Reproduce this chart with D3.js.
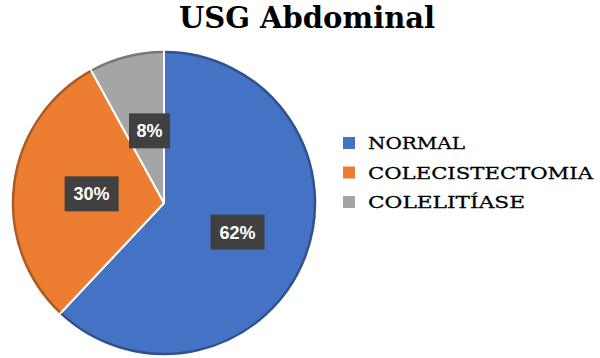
<!DOCTYPE html>
<html><head><meta charset="utf-8">
<script src="https://cdn.jsdelivr.net/npm/d3@7"></script>
<style>body{margin:0;background:#fff}svg{display:block}</style>
</head><body>
<svg id="c" width="600" height="358"></svg>
<script>
const title = "USG Abdominal";
const categories = ["NORMAL", "COLECISTECTOMIA", "COLELITÍASE"];
const values = [62, 30, 8];
const labels = ["62%", "30%", "8%"];
const colors = ["#4472C4", "#ED7D31", "#A5A5A5"];
const edgeColors = ["#2F528F", "#AE5A21", "#787878"];

const svg = d3.select("#c");
const cx = 164, cy = 203, r = 152;

svg.append("text").attr("x", 307).attr("y", 28).attr("text-anchor", "middle")
  .attr("font-family", "DejaVu Serif").attr("font-weight", "bold").attr("font-size", 29)
  .attr("fill", "#000").text(title);

const pie = d3.pie().sort(null).value(d => d)(values);
const arc = d3.arc().innerRadius(0).outerRadius(r);
const rim = d3.arc().innerRadius(r - 1).outerRadius(r - 1);
const g = svg.append("g").attr("transform", `translate(${cx},${cy})`);

g.selectAll("path.slice").data(pie).join("path").attr("class", "slice")
  .attr("d", arc).attr("fill", (d, i) => colors[i])
  .attr("stroke", "#fff").attr("stroke-width", 2).attr("stroke-linejoin", "round");
g.selectAll("path.rim").data(pie).join("path").attr("class", "rim")
  .attr("d", d => rim({startAngle: d.startAngle + 0.006, endAngle: d.endAngle - 0.006}))
  .attr("fill", "none").attr("stroke", (d, i) => edgeColors[i]).attr("stroke-width", 2.5);

const labelDist = [0.52, 0.48, 0.49];
const lab = g.selectAll("g.lab").data(pie).join("g").attr("class", "lab")
  .attr("transform", (d, i) => {
    const a = (d.startAngle + d.endAngle) / 2;
    const dist = labelDist[i] * r;
    return `translate(${Math.sin(a) * dist + (i === 2 ? 4 : 0)},${-Math.cos(a) * dist})`;
  });
lab.each(function(d, i) {
  const s = d3.select(this);
  const w = i === 2 ? 41 : 54, h = 35;
  s.append("rect").attr("x", -w / 2).attr("y", -h / 2).attr("width", w).attr("height", h).attr("fill", "#404040");
  s.append("text").attr("text-anchor", "middle").attr("dy", "0.36em")
    .attr("font-family", "Liberation Sans").attr("font-weight", "bold").attr("font-size", 18)
    .attr("fill", "#fff").text(labels[i]);
});

const legW = [97, 225, 157];
const leg = svg.append("g").selectAll("g").data(categories).join("g")
  .attr("transform", (d, i) => `translate(343,${143 + i * 29.5})`);
leg.append("rect").attr("x", 0).attr("y", -6).attr("width", 12).attr("height", 12)
  .attr("fill", (d, i) => colors[i]);
leg.append("text").attr("x", 25).attr("y", 0).attr("dy", "0.36em")
  .attr("font-family", "DejaVu Serif").attr("font-size", 17.5).attr("fill", "#000")
  .attr("stroke", "#000").attr("stroke-width", 0.3)
  .attr("textLength", (d, i) => legW[i]).attr("lengthAdjust", "spacingAndGlyphs").text(d => d);
</script>
</body></html>
